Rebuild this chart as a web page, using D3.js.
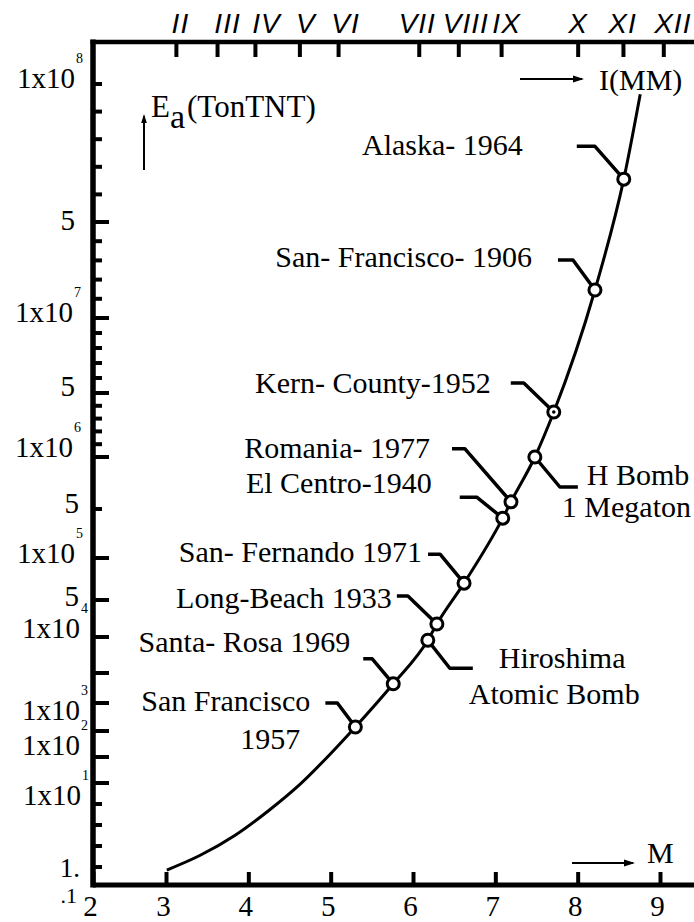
<!DOCTYPE html>
<html><head><meta charset="utf-8">
<script src="https://cdn.jsdelivr.net/npm/d3@7"></script>
<style>body{margin:0;background:#fff} svg{display:block}</style>
</head><body>
<svg id="chart" width="694" height="922"></svg>
<script>
// ---------------- data ----------------
const magnitudeTicks = [2, 3, 4, 5, 6, 7, 8, 9];
const intensityLabels = ["II","III","IV","V","VI","VII","VIII","IX","X","XI","XII"];
const intensityAtMagnitude = [3.12, 3.62, 4.08, 4.62, 5.09, 6.07, 6.55, 7.07, 8.0, 8.55, 9.04];

const energyTicks = [1e8, 5e7, 1e7, 5e6, 1e6, 5e5, 1e5, 5e4, 1e4, 5e3, 1e3, 5e2, 1e2, 1e1, 1, 0.1];
const energyTickMantissa = ["1x10","5","1x10","5","1x10","5","1x10","5","1x10","","1x10","","1x10","1x10","1.",".1"];
const energyTickExponent = ["8","","7","","6","","5","","4","","3","","2","1","",""];
const minorTicksBetween = [4, 4, 4, 4, 0, 0, 0, 0, 0, 0, 0, 0, 0, 3, 0];

const eventLabels = [
  ["San Francisco", "1957"],
  ["Santa- Rosa 1969"],
  ["Hiroshima", "Atomic Bomb"],
  ["Long-Beach 1933"],
  ["San- Fernando 1971"],
  ["El Centro-1940"],
  ["Romania- 1977"],
  ["H Bomb", "1 Megaton"],
  ["Kern- County-1952"],
  ["San- Francisco- 1906"],
  ["Alaska- 1964"]
];
const eventMagnitude = [5.30, 5.76, 6.18, 6.29, 6.62, 7.09, 7.19, 7.48, 7.71, 8.21, 8.56];
const eventEnergy    = [552, 2.8e3, 9.4e3, 1.76e4, 6.6e4, 3.7e5, 5.5e5, 1e6, 3.1e6, 1.6e7, 6.2e7];

// curve segments outside the marked events
const curveLowMagnitude = [3.01, 3.41, 3.84, 4.26, 4.63, 4.99];
const curveLowEnergy    = [0.68, 1.37, 2.39, 4.81, 9.7, 117];
const curveTopMagnitude = [8.76];
const curveTopEnergy    = [9.5e7];

// ---------------- layout ----------------
const W = 694, H = 922;
const axisX = 93, axisTop = 42, axisBottom = 885;
const serif = "\"Liberation Serif\", \"Times New Roman\", serif";
const sans = "\"Liberation Sans\", Arial, sans-serif";
const fs = 30;

const svg = d3.select("#chart");
svg.append("rect").attr("width", W).attr("height", H).attr("fill", "#fff");

const x = d3.scaleLinear().domain([2, 3, 9]).range([axisX, 166, 660]);
const yLog = d3.scaleLinear()
  .domain(energyTicks.map(v => Math.log10(v)))
  .range([84, 222, 318, 393, 457, 509, 558, 600, 637, 673, 703, 731, 757, 783, 867, axisBottom]);
const y = v => yLog(Math.log10(v));

function T(sel) { return sel.style("font-family", serif); }

// ---- axes lines ----
svg.append("line").attr("x1", axisX).attr("x2", axisX).attr("y1", axisTop - 2.5).attr("y2", axisBottom + 2.5)
  .attr("stroke", "#000").attr("stroke-width", 5.5);
svg.append("line").attr("x1", axisX - 2.5).attr("x2", W).attr("y1", axisTop).attr("y2", axisTop)
  .attr("stroke", "#000").attr("stroke-width", 4.5);

// bottom axis
const xAxis = d3.axisBottom(x).tickValues(magnitudeTicks).tickSizeInner(-13).tickSizeOuter(0)
  .tickPadding(10).tickFormat(d3.format("d"));
const gx = svg.append("g").attr("transform", `translate(0,${axisBottom})`).call(xAxis);
gx.select(".domain").attr("d", `M${axisX},0H${W}`).attr("stroke", "#000").attr("stroke-width", 5);
gx.selectAll(".tick line").attr("stroke", "#000").attr("stroke-width", 4);
T(gx.selectAll(".tick text")).attr("font-size", 29).attr("fill", "#000").attr("dx", -3);

// top intensity axis (labels hand-placed around their ticks)
const romanDx = [4, 10, 11, 6, 7, -2, 7, 5, 0, -1, 9];
const topAxis = d3.axisTop(x).tickValues(intensityAtMagnitude).tickSizeInner(-15).tickSizeOuter(0)
  .tickPadding(9).tickFormat((d, i) => intensityLabels[i]);
const gt = svg.append("g").attr("transform", `translate(0,${axisTop})`).call(topAxis);
gt.select(".domain").remove();
gt.selectAll(".tick line").attr("stroke", "#000").attr("stroke-width", 4);
gt.selectAll(".tick text").style("font-family", sans).style("font-style", "italic").attr("font-size", 28)
  .attr("letter-spacing", 1).attr("fill", "#000").attr("dx", (d, i) => romanDx[i]);

// left energy axis ticks
const shortTick = new Set([1e8, 5e5, 1]);
const gy = svg.append("g");
energyTicks.forEach((v, i) => {
  if (v !== 0.1) {
    const len = shortTick.has(v) ? 9 : 16;
    gy.append("line").attr("x1", axisX).attr("x2", axisX + len).attr("y1", y(v)).attr("y2", y(v))
      .attr("stroke", "#000").attr("stroke-width", 4);
  }
  const n = minorTicksBetween[i] || 0;
  if (n > 0 && i + 1 < energyTicks.length) {
    const y0 = y(v), y1 = y(energyTicks[i + 1]);
    for (let k = 1; k <= n; k++) {
      const yy = y0 + (y1 - y0) * k / (n + 1);
      gy.append("line").attr("x1", axisX).attr("x2", axisX + 9).attr("y1", yy).attr("y2", yy)
        .attr("stroke", "#000").attr("stroke-width", 4);
    }
  }
});
const yLabelDy = [4, 8, 4, 3, 0, 4, 5, 6, 1, 0, 17, 0, -2, 22, 10, 18];
const yLabelEnd = [75, 75, 73, 75, 73, 79, 75, 79, 80, 0, 80, 0, 80, 81, 80, 77];
const yLabelSize = [29, 29, 29, 29, 29, 29, 29, 29, 29, 29, 29, 29, 29, 29, 27, 22];
energyTicks.forEach((v, i) => {
  if (!energyTickMantissa[i]) return;
  const by = y(v) + yLabelDy[i];
  T(gy.append("text")).attr("x", yLabelEnd[i]).attr("y", by).attr("text-anchor", "end")
    .attr("font-size", yLabelSize[i]).text(energyTickMantissa[i]);
  if (energyTickExponent[i]) {
    T(gy.append("text")).attr("x", yLabelEnd[i] + 1).attr("y", by - 25)
      .attr("font-size", 14).text(energyTickExponent[i]);
  }
});

// ---- axis titles & arrows ----
function arrow(x1, y1, x2, y2, head) {
  svg.append("line").attr("x1", x1).attr("y1", y1).attr("x2", x2).attr("y2", y2)
    .attr("stroke", "#000").attr("stroke-width", 2);
  const a = Math.atan2(y2 - y1, x2 - x1);
  const p = [[x2 + Math.cos(a) * 2, y2 + Math.sin(a) * 2],
             [x2 - Math.cos(a) * head + Math.sin(a) * head * 0.4, y2 - Math.sin(a) * head - Math.cos(a) * head * 0.4],
             [x2 - Math.cos(a) * head - Math.sin(a) * head * 0.4, y2 - Math.sin(a) * head + Math.cos(a) * head * 0.4]];
  svg.append("path").attr("d", "M" + p.join("L") + "Z").attr("fill", "#000");
}
arrow(144, 170, 144, 116, 7);
const ea = T(svg.append("text")).attr("x", 151).attr("y", 117).attr("font-size", 31);
ea.append("tspan").text("E");
ea.append("tspan").attr("dy", 11).attr("font-size", 34).text("a");
ea.append("tspan").attr("dy", -11).attr("dx", 2).text("(TonTNT)");

arrow(520, 79, 582, 79, 9);
T(svg.append("text")).attr("x", 599).attr("y", 90).attr("font-size", 30).text("I(MM)");
arrow(572, 863, 633, 863, 9);
T(svg.append("text")).attr("x", 647).attr("y", 863).attr("font-size", 30).text("M");

// ---- curve ----
const events = eventMagnitude.map((m, i) => ({ m, e: eventEnergy[i], label: eventLabels[i] }));
const curvePts = curveLowMagnitude.map((m, i) => ({ m, e: curveLowEnergy[i] }))
  .concat(events.map(d => ({ m: d.m, e: d.e })))
  .concat(curveTopMagnitude.map((m, i) => ({ m, e: curveTopEnergy[i] })));
const line = d3.line().x(d => x(d.m)).y(d => y(d.e)).curve(d3.curveMonotoneX);
svg.append("path").attr("d", line(curvePts)).attr("fill", "none").attr("stroke", "#000").attr("stroke-width", 3);

// ---- annotations ----
const annoLayout = [
  { leader: [[-30,-24],[-18,-24],[0,0]], lines: [[-45,-16,"end"],[-55,22,"end"]] },
  { leader: [[-30,-25],[-21,-25],[0,0]], lines: [[-43,-32,"end"]] },
  { leader: [[0,0],[22,28],[45,28]],     lines: [[71,28,"start"],[41,64,"start"]] },
  { leader: [[-40,-28],[-29,-28],[0,0]], lines: [[-45,-16,"end"]] },
  { leader: [[-36,-29],[-24,-29],[0,0]], lines: [[-42,-21,"end"]] },
  { leader: [[-43,-21],[-26,-21],[0,0]], lines: [[-71,-25,"end"]] },
  { leader: [[-59,-53],[-46,-53],[0,0]], lines: [[-81,-44,"end"]] },
  { leader: [[0,0],[25,30],[43,30]],     lines: [[52,28,"start"],[27,60,"start"]] },
  { leader: [[-43,-29],[-30,-29],[0,0]], lines: [[-63,-19,"end"]] },
  { leader: [[-37,-30],[-22,-30],[0,0]], lines: [[-63,-23,"end"]] },
  { leader: [[-47,-33],[-29,-33],[0,0]], lines: [[-101,-24,"end"]] }
];
const ga = svg.append("g");
events.forEach((d, i) => {
  const cx = x(d.m), cy = y(d.e), L = annoLayout[i];
  ga.append("path").attr("d", "M" + L.leader.map(p => [cx + p[0], cy + p[1]]).join("L"))
    .attr("fill", "none").attr("stroke", "#000").attr("stroke-width", 3.5).attr("stroke-linejoin", "round");
  d.label.forEach((t, j) => {
    const [dx, dy, anchor] = L.lines[j];
    T(ga.append("text")).attr("x", cx + dx).attr("y", cy + dy).attr("text-anchor", anchor)
      .attr("font-size", fs).text(t);
  });
});
const gc = svg.append("g");
events.forEach(d => {
  const cx = x(d.m), cy = y(d.e);
  gc.append("circle").attr("cx", cx).attr("cy", cy).attr("r", 6)
    .attr("fill", "#fff").attr("stroke", "#000").attr("stroke-width", 3);
  if (d.label[0].startsWith("Kern")) {
    gc.append("circle").attr("cx", cx).attr("cy", cy).attr("r", 1.8).attr("fill", "#000");
  }
});
</script>
</body></html>
